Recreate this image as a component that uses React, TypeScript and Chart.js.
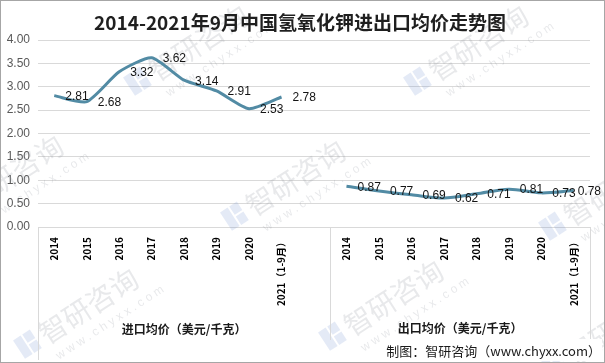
import { useEffect, useRef } from 'react';
import { Chart, registerables } from 'chart.js';

Chart.register(...registerables);

const chartTitle = '2014-2021年9月中国氢氧化钾进出口均价走势图';
const categories = ['2014', '2015', '2016', '2017', '2018', '2019', '2020', '2021（1-9月）'];
const importPrices = [2.81, 2.68, 3.32, 3.62, 3.14, 2.91, 2.53, 2.78];
const exportPrices = [0.87, 0.77, 0.69, 0.62, 0.71, 0.81, 0.73, 0.78];
const groupNames = ['进口均价（美元/千克）', '出口均价（美元/千克）'];
const yTickValues = [0, 0.5, 1, 1.5, 2, 2.5, 3, 3.5, 4];
const sourceText = '制图：智研咨询（www.chyxx.com）';
const watermarkText = '智研咨询';
const watermarkUrl = 'w w w . c h y x x . c o m';

const W = 605;
const H = 363;
const LINE_COLOR = '#528BA4';
const CJK = '"Noto Sans CJK SC", "Noto Sans", sans-serif';

// x labels: import group (8 + 1 blank slot) then export group (8)
const xLabels = [...categories, '', ...categories];
const gap = categories.map(() => null);
const importData = [...importPrices, null, ...gap];
const exportData = [...gap, null, ...exportPrices];

const watermarkSpots: [number, number][] = [
  [195, 45], [475, 45], [10, 175], [292, 180], [610, 190], [85, 308], [390, 300], [612, 330],
];

function drawWatermark(ctx: CanvasRenderingContext2D, cx: number, cy: number) {
  ctx.save();
  ctx.translate(cx, cy);
  ctx.rotate((-33 * Math.PI) / 180);
  // logo
  ctx.fillStyle = 'rgba(120,150,210,0.2)';
  ctx.fillRect(-78, -12, 9, 22);
  ctx.fillRect(-67, -12, 9, 10);
  ctx.fillRect(-67, 0, 9, 10);
  ctx.fillStyle = 'rgba(140,145,155,0.2)';
  ctx.font = `28px ${CJK}`;
  ctx.textAlign = 'left';
  ctx.textBaseline = 'middle';
  ctx.fillText(watermarkText, -52, 0);
  ctx.font = `12px "Liberation Sans", sans-serif`;
  ctx.fillText(watermarkUrl, -50, 26);
  ctx.restore();
}

const decorPlugin = {
  id: 'decor',
  beforeDraw(chart: any) {
    const ctx = chart.ctx as CanvasRenderingContext2D;
    ctx.save();
    ctx.fillStyle = '#ffffff';
    ctx.fillRect(0, 0, W, H);
    ctx.restore();
  },
  beforeDatasetsDraw(chart: any) {
    const ctx = chart.ctx as CanvasRenderingContext2D;
    watermarkSpots.forEach(([x, y]) => drawWatermark(ctx, x, y));
  },
  afterDatasetsDraw(chart: any) {
    const ctx = chart.ctx as CanvasRenderingContext2D;
    ctx.save();
    ctx.font = `12px "Liberation Sans", sans-serif`;
    ctx.fillStyle = '#141414';
    ctx.textAlign = 'left';
    ctx.textBaseline = 'middle';
    chart.data.datasets.forEach((ds: any, di: number) => {
      const meta = chart.getDatasetMeta(di);
      meta.data.forEach((pt: any, i: number) => {
        const v = ds.data[i];
        if (v === null || v === undefined) return;
        const txt = v.toFixed(2);
        const w = ctx.measureText(txt).width;
        let x = pt.x + 11;
        if (x + w > W - 4) x = W - 4 - w;
        ctx.fillText(txt, x, pt.y + 1);
      });
    });
    ctx.restore();
  },
  afterDraw(chart: any) {
    const ctx = chart.ctx as CanvasRenderingContext2D;
    const area = chart.chartArea;
    const xs = chart.scales.x;
    const half = (xs.getPixelForValue(1) - xs.getPixelForValue(0)) / 2;
    const sep = xs.getPixelForValue(categories.length) + half;
    ctx.save();
    // axis box lines
    ctx.strokeStyle = '#d9d9d9';
    ctx.lineWidth = 1;
    const vline = (x: number, y2: number) => {
      const px = Math.round(x) + 0.5;
      ctx.beginPath();
      ctx.moveTo(px, area.bottom);
      ctx.lineTo(px, y2);
      ctx.stroke();
    };
    vline(area.left, 360);
    vline(sep, 340);
    vline(area.right, 340);

    // category labels (rotated, reading bottom-to-top, top-aligned)
    ctx.fillStyle = '#000000';
    ctx.font = `bold 10px ${CJK}`;
    ctx.textAlign = 'right';
    ctx.textBaseline = 'middle';
    xLabels.forEach((lab, i) => {
      if (!lab) return;
      const x = xs.getPixelForValue(i);
      ctx.save();
      ctx.translate(x, area.bottom + 10);
      ctx.rotate(-Math.PI / 2);
      ctx.fillText(lab, 0, 0);
      ctx.restore();
    });

    // group labels
    ctx.fillStyle = '#1a1a1a';
    ctx.font = `bold 12px ${CJK}`;
    ctx.textAlign = 'center';
    ctx.textBaseline = 'middle';
    ctx.fillText(groupNames[0], (area.left + sep) / 2, 329);
    ctx.fillText(groupNames[1], (sep + area.right) / 2, 328);

    // title
    ctx.font = `bold 19px ${CJK}`;
    ctx.fillStyle = '#1f1f1f';
    ctx.fillText(chartTitle, 300, 23);

    // source footer
    ctx.font = `13px ${CJK}`;
    const tw = ctx.measureText(sourceText).width;
    ctx.fillStyle = '#ffffff';
    ctx.fillRect(600 - tw - 4, 339, tw + 6, 22);
    ctx.fillStyle = '#1a1a1a';
    ctx.textAlign = 'right';
    ctx.fillText(sourceText, 601, 351);

    // outer border
    ctx.strokeStyle = '#a6a6a6';
    ctx.strokeRect(0.5, 0.5, W - 1, H - 1);
    ctx.restore();
  },
};

export default function App() {
  const ref = useRef<HTMLCanvasElement | null>(null);
  useEffect(() => {
    document.body.style.margin = '0';
    const canvas = ref.current;
    if (!canvas) return;
    const chart = new Chart(canvas, {
      type: 'line',
      data: {
        labels: xLabels,
        datasets: [
          {
            label: '进口均价',
            data: importData,
            borderColor: LINE_COLOR,
            borderWidth: 3,
            pointRadius: 0,
            tension: 0.2,
            spanGaps: false,
            fill: false,
          },
          {
            label: '出口均价',
            data: exportData,
            borderColor: LINE_COLOR,
            borderWidth: 3,
            pointRadius: 0,
            tension: 0.3,
            spanGaps: false,
            fill: false,
          },
        ],
      },
      options: {
        responsive: false,
        animation: false,
        devicePixelRatio: 1,
        layout: { padding: { top: 40, right: 15, left: 0, bottom: 0 } },
        plugins: {
          legend: { display: false },
          tooltip: { enabled: false },
          title: { display: false },
        },
        scales: {
          x: {
            type: 'category',
            offset: true,
            grid: { display: false, drawTicks: false },
            border: { display: false },
            ticks: { display: false, autoSkip: false },
            afterFit: (s: any) => {
              s.height = 136;
            },
          },
          y: {
            min: 0,
            max: 4,
            afterBuildTicks: (s: any) => {
              s.ticks = yTickValues.map((v) => ({ value: v }));
            },
            grid: { color: '#d9d9d9', lineWidth: 1, drawTicks: false },
            border: { display: false },
            ticks: {
              padding: 8,
              color: '#595959',
              font: { family: '"Liberation Sans", sans-serif', size: 12 },
              callback: (v: any) => Number(v).toFixed(2),
            },
            afterFit: (s: any) => {
              s.width = 38;
            },
          },
        },
      },
      plugins: [decorPlugin],
    } as any);
    return () => chart.destroy();
  }, []);
  return <canvas ref={ref} width={W} height={H} style={{ display: 'block' }} />;
}
